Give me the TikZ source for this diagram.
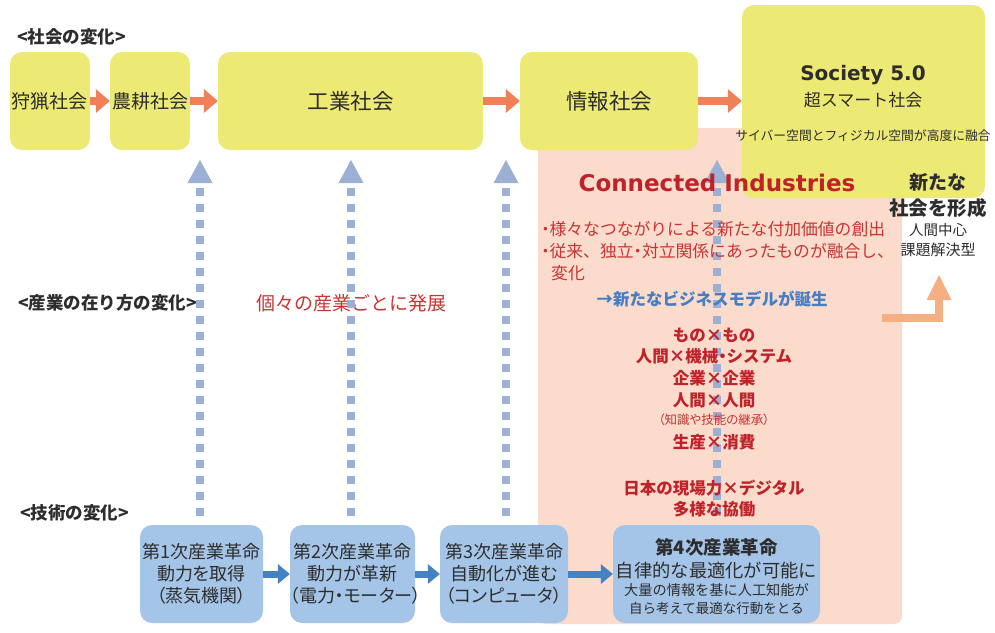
\documentclass[tikz,border=0pt]{standalone}
\usepackage{fontspec}
\setmainfont{Noto Sans CJK JP}
\newfontfamily\jpp[RawFeature=+palt]{Noto Sans CJK JP}
\newfontfamily\latf{DejaVu Sans}
\usetikzlibrary{arrows.meta}
\definecolor{yel}{RGB}{236,233,116}
\definecolor{pinkc}{RGB}{250,219,204}
\definecolor{bluebox}{RGB}{165,197,232}
\definecolor{oarr}{RGB}{240,128,88}
\definecolor{barr}{RGB}{68,130,196}
\definecolor{dotc}{RGB}{156,176,214}
\definecolor{bentc}{RGB}{244,176,130}
\definecolor{txt}{RGB}{45,45,45}
\definecolor{dred}{RGB}{192,34,42}
\definecolor{mred}{RGB}{200,52,52}
\definecolor{btxt}{RGB}{70,125,195}
\newcommand\fsz[2]{\fontsize{#1pt}{#2pt}\selectfont}
\begin{document}
\begin{tikzpicture}[x=1pt,y=-1pt,
  ybox/.style={fill=yel, rounded corners=12pt, inner sep=0pt, text=txt},
  bbox/.style={fill=bluebox, rounded corners=12pt, inner sep=0pt, text=txt, minimum height=98pt, align=center, font=\jpp\fsz{18}{22}},
  oarrow/.style={draw=oarr, line width=8pt, -{Triangle[length=14pt,width=24pt,line width=0pt]}},
  barrow/.style={draw=barr, line width=7pt, -{Triangle[length=12pt,width=20pt,line width=0pt]}},
  dotarrow/.style={draw=dotc, line width=8pt, dash pattern=on 8pt off 8pt, -{Triangle[length=23pt,width=25pt,line width=0pt]}},
  bentarrow/.style={draw=bentc, line width=8.5pt, -{Triangle[length=25pt,width=25pt,line width=0pt]}},
  lbl/.style={anchor=west, inner sep=0pt, font=\bfseries\fsz{17.5}{20}, text=txt},
  redline/.style={inner sep=0pt, font=\bfseries\fsz{16.5}{19}, text=dred},
  bullet/.style={anchor=west, inner sep=0pt, font=\fsz{16.8}{19}, text=mred},
  plain/.style={inner sep=0pt, text=txt}
]
\useasboundingbox (0,0) rectangle (995,632);

% pink Connected Industries area
\fill[pinkc, rounded corners=8pt] (538,128) rectangle (902,624);

% society boxes
\node[ybox, minimum width=80pt, minimum height=98pt, font=\fsz{19}{22}] (hunt) at (50,101) {狩猟社会};
\node[ybox, minimum width=80pt, minimum height=98pt, font=\fsz{19}{22}] (agri) at (150,101) {農耕社会};
\node[ybox, minimum width=265pt, minimum height=98pt, font=\fsz{21.5}{24}] (ind) at (350.5,101) {工業社会};
\node[ybox, minimum width=178pt, minimum height=98pt, font=\fsz{21.5}{24}] (info) at (609,101) {情報社会};
\node[ybox, minimum width=243pt, minimum height=193pt] (soc) at (863.5,101.5) {};
\node[plain, font=\latf\bfseries\fsz{20}{24}] (socA) at (863,75) {Society 5.0};
\node[plain, font=\fsz{17}{20}] (socB) at (863,100) {超スマート社会};
\node[plain, font=\fsz{12.8}{15}] (socC) at (863,136) {サイバー空間とフィジカル空間が高度に融合};

\draw[oarrow] (hunt.east) -- (agri.west);
\draw[oarrow] (agri.east) -- (ind.west);
\draw[oarrow] (ind.east) -- (info.west);
\draw[oarrow] (info.east) -- (info.east -| soc.west);

% section labels
\node[lbl] (l1) at (17,37) {<社会の変化>};
\node[lbl] (l2) at (18,303) {<産業の在り方の変化>};
\node[lbl] (l3) at (20,513) {<技術の変化>};
\node[inner sep=0pt, font=\fsz{19}{22}, text=mred] (each) at (351,303) {個々の産業ごとに発展};

% dotted vertical arrows
\coordinate (d1s) at (200,516); \coordinate (d1e) at (200,160);
\coordinate (d2s) at (351,516); \coordinate (d2e) at (351,160);
\coordinate (d3s) at (506,516); \coordinate (d3e) at (506,160);
\coordinate (d4s) at (717,516); \coordinate (d4e) at (717,160);
\draw[dotarrow] (d1s) -- (d1e);
\draw[dotarrow] (d2s) -- (d2e);
\draw[dotarrow] (d3s) -- (d3e);
\draw[dotarrow] (d4s) -- (d4e);

% Connected Industries texts
\node[inner sep=0pt, font=\latf\bfseries\fsz{23}{26}, text=dred] (ci) at (717,183) {Connected Industries};
\node[bullet] (b1) at (541,229) {{\jpp ・}様々なつながりによる新たな付加価値の創出};
\node[bullet] (b2) at (541,251) {{\jpp ・}従来、独立{\jpp ・}対立関係にあったものが融合し、};
\node[bullet] (b3) at (551,273) {変化};
\node[inner sep=0pt, font=\bfseries\fsz{16.5}{19}, text=btxt] (biz) at (712,299) {→新たなビジネスモデルが誕生};
\node[redline] (c1) at (714,335) {もの×もの};
\node[redline] (c2) at (714,356) {人間×機械{\jpp ・}システム};
\node[redline] (c3) at (714,378) {企業×企業};
\node[redline] (c4) at (714,400) {人間×人間};
\node[inner sep=0pt, font=\jpp\fsz{12.5}{14}, text=mred] (c5) at (714,420) {（知識や技能の継承）};
\node[redline] (c6) at (714,442) {生産×消費};
\node[redline] (c7) at (714,488) {日本の現場力×デジタル};
\node[redline] (c8) at (714,509) {多様な協働};

% new society text
\node[plain, font=\bfseries\fsz{19}{22}] (n1) at (938,182) {新たな};
\node[plain, font=\bfseries\fsz{19.5}{22}] (n2) at (938,208) {社会を形成};
\node[plain, font=\fsz{14.5}{17}] (n3) at (938,230) {人間中心};
\node[plain, font=\fsz{15}{17}] (n4) at (938,250) {課題解決型};
\coordinate (bs) at (882,318);
\coordinate (be) at (939,275);
\draw[bentarrow] (bs) -| (be);

% technology boxes
\node[bbox, text width=123pt] (t1) at (201.5,574) {\raisebox{-3pt}{\parbox{123pt}{\centering 第1次産業革命\\動力を取得\\（蒸気機関）}}};
\node[bbox, text width=125pt] (t2) at (352.5,574) {\raisebox{-3pt}{\parbox{125pt}{\centering 第2次産業革命\\動力が革新\\（電力・モーター）}}};
\node[bbox, text width=128pt] (t3) at (504,574) {\raisebox{-3pt}{\parbox{128pt}{\centering 第3次産業革命\\自動化が進む\\（コンピュータ）}}};
\node[bbox, text width=207pt] (t4) at (716.5,574) {};
\node[plain, font=\bfseries\fsz{18.5}{21}] (t4a) at (716.5,547) {第4次産業革命};
\node[plain, font=\fsz{18.3}{21}] (t4b) at (716.5,570) {自律的な最適化が可能に};
\node[plain, font=\fsz{14.2}{16}] (t4c) at (716.5,590) {大量の情報を基に人工知能が};
\node[plain, font=\fsz{13.5}{16}] (t4d) at (716.5,608) {自ら考えて最適な行動をとる};

\draw[barrow] (t1.east) -- (t2.west);
\draw[barrow] (t2.east) -- (t3.west);
\draw[barrow] (t3.east) -- (t4.west);
\end{tikzpicture}
\end{document}
